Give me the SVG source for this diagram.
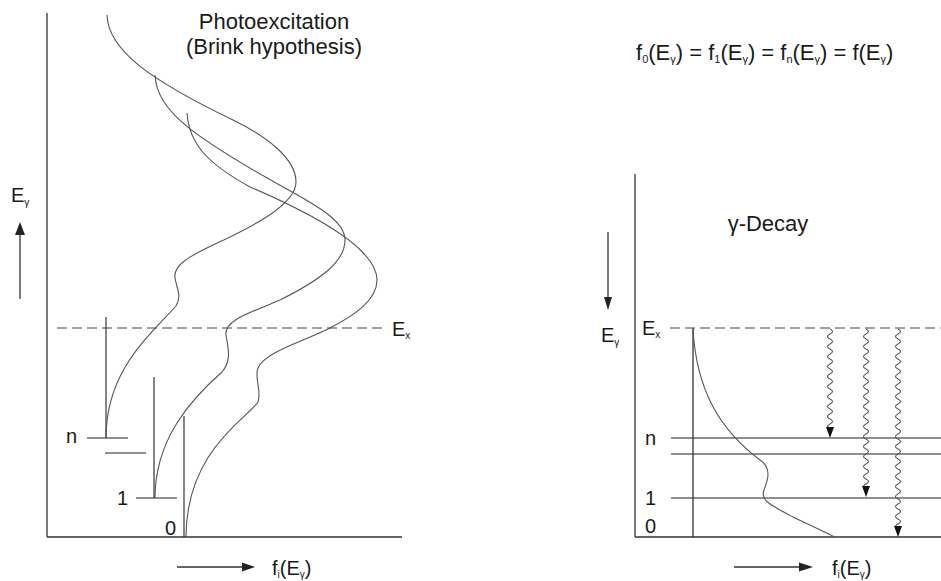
<svg xmlns="http://www.w3.org/2000/svg" width="941" height="581" viewBox="0 0 941 581">
<style>
text{font-family:"Liberation Sans",Arial,sans-serif;fill:#1a1a1a;font-size:20px}
.ax{stroke:#333;stroke-width:1.3;fill:none}
.lv{stroke:#222;stroke-width:1.1;fill:none}
.cv{stroke:#555;stroke-width:1.1;fill:none}
.da{stroke:#444;stroke-width:1.1;fill:none;stroke-dasharray:10,5}
.wv{stroke:#555;stroke-width:1.1;fill:none}
.ah{fill:#111}
.sub{font-size:10px}
.ttl{font-size:22px}
.fm{font-size:22px}
.fs{font-size:11px}
</style>
<g id="left-panel">
<line class="ax" x1="47" y1="13" x2="47" y2="537"/>
<line class="ax" x1="47" y1="537" x2="402" y2="537"/>
<line class="da" x1="57" y1="328" x2="385" y2="328"/>
</g>
<g id="left-axis-labels">
<line class="ax" x1="20" y1="299" x2="20" y2="232"/>
<path d="M15,235 L20,222 L25,235 Z" fill="#222"/>
<text x="11" y="202">E<tspan class="sub" dy="4">γ</tspan></text>
<line class="ax" x1="177" y1="567" x2="244" y2="567"/>
<path d="M242,562.5 L255,567 L242,571.5 Z" fill="#222"/>
<text x="272" y="575">f<tspan class="sub" dy="3">i</tspan><tspan dy="-3">(E</tspan><tspan class="sub" dy="3">γ</tspan><tspan dy="-3">)</tspan></text>
<text x="392" y="336">E<tspan class="sub" dy="3">x</tspan></text>
</g>
<g id="title-left">
<text x="274" y="29" text-anchor="middle" class="ttl">Photoexcitation</text>
<text x="274" y="54" text-anchor="middle" class="ttl">(Brink hypothesis)</text>
</g>
<g id="level-n">
<line class="lv" x1="106" y1="317" x2="106" y2="438"/>
<line class="lv" x1="87" y1="438" x2="128" y2="438"/>
<line class="lv" x1="105" y1="453" x2="146" y2="453"/>
<text x="66" y="443">n</text>
</g>
<g id="level-1">
<line class="lv" x1="154" y1="377" x2="154" y2="498"/>
<line class="lv" x1="136" y1="498" x2="177" y2="498"/>
<text x="117" y="505">1</text>
</g>
<g id="level-0">
<line class="lv" x1="184" y1="416" x2="184" y2="537"/>
<text x="165" y="535">0</text>
</g>
<g id="curves-left">
<path class="cv" d="M107,15 C108,50 150,80 233,120 C270,138 296,160 296,182 C296,205 250,228 213,245 C190,256 173,265 175,278 C177,290 182,295 176,306 C150,335 106,370 106,438"/>
<path class="cv" d="M155,75 C157,110 190,135 283,187 C320,207 345,222 345,240 C345,262 320,280 280,300 C250,313 224,320 226,335 C228,348 232,360 222,372 C190,400 155,440 155,498"/>
<path class="cv" d="M187,113 C189,145 210,165 250,187 C320,217 377,250 377,280 C377,300 355,315 330,328 C300,343 265,352 258,368 C254,378 262,392 258,402 C250,416 186,450 186,537"/>
</g>
<g id="formula">
<text x="636" y="60" class="fm">f<tspan class="fs" dy="3">0</tspan><tspan dy="-3">(E</tspan><tspan class="fs" dy="3">γ</tspan><tspan dy="-3">) = f</tspan><tspan class="fs" dy="3">1</tspan><tspan dy="-3">(E</tspan><tspan class="fs" dy="3">γ</tspan><tspan dy="-3">) = f</tspan><tspan class="fs" dy="3">n</tspan><tspan dy="-3">(E</tspan><tspan class="fs" dy="3">γ</tspan><tspan dy="-3">) = f(E</tspan><tspan class="fs" dy="3">γ</tspan><tspan dy="-3">)</tspan></text>
</g>
<g id="right-panel">
<line class="ax" x1="635" y1="174" x2="635" y2="537"/>
<line class="ax" x1="635" y1="537" x2="941" y2="537"/>
<line class="ax" x1="693" y1="328" x2="693" y2="537"/>
<line class="da" x1="670" y1="328" x2="941" y2="328"/>
<text x="768" y="231" text-anchor="middle" class="ttl">γ-Decay</text>
<line class="ax" x1="608" y1="232" x2="608" y2="298"/>
<path d="M604,297 L608,310 L612,297 Z" fill="#222"/>
<text x="601" y="342">E<tspan class="sub" dy="4">γ</tspan></text>
<text x="642" y="335">E<tspan class="sub" dy="3">x</tspan></text>
<line class="ax" x1="734" y1="567" x2="801" y2="567"/>
<path d="M799,562.5 L813,567 L799,571.5 Z" fill="#222"/>
<text x="832" y="575">f<tspan class="sub" dy="3">i</tspan><tspan dy="-3">(E</tspan><tspan class="sub" dy="3">γ</tspan><tspan dy="-3">)</tspan></text>
</g>
<g id="right-levels">
<line class="lv" x1="671" y1="438" x2="941" y2="438"/>
<line class="lv" x1="671" y1="454" x2="941" y2="454"/>
<line class="lv" x1="671" y1="498" x2="941" y2="498"/>
<text x="645" y="445">n</text>
<text x="645" y="505">1</text>
<text x="645" y="533">0</text>
</g>
<g id="right-curve">
<path class="cv" d="M693,328 C696,390 720,430 760,460 C772,468 768,480 764,490 C760,500 770,505 793,517 C810,525 825,532 835,537"/>
</g>
<g id="connectors">
<path class="wv" d="M830,329 q5,2.5 0,5 t0,5 t0,5 t0,5 t0,5 t0,5 t0,5 t0,5 t0,5 t0,5 t0,5 t0,5 t0,5 t0,5 t0,5 t0,5 t0,5 t0,5 t0,5 t0,4"/>
<path class="ah" d="M826,427 L834,427 L830,438 Z"/>
<path class="wv" d="M866,329 q5,2.5 0,5 t0,5 t0,5 t0,5 t0,5 t0,5 t0,5 t0,5 t0,5 t0,5 t0,5 t0,5 t0,5 t0,5 t0,5 t0,5 t0,5 t0,5 t0,5 t0,5 t0,5 t0,5 t0,5 t0,5 t0,5 t0,5 t0,5 t0,5 t0,5 t0,5 t0,5 t0,3"/>
<path class="ah" d="M862,486 L870,486 L866,497 Z"/>
<path class="wv" d="M898,329 q5,2.5 0,5 t0,5 t0,5 t0,5 t0,5 t0,5 t0,5 t0,5 t0,5 t0,5 t0,5 t0,5 t0,5 t0,5 t0,5 t0,5 t0,5 t0,5 t0,5 t0,5 t0,5 t0,5 t0,5 t0,5 t0,5 t0,5 t0,5 t0,5 t0,5 t0,5 t0,5 t0,5 t0,5 t0,5 t0,5 t0,5 t0,5 t0,5 t0,5 t0,3"/>
<path class="ah" d="M894,526 L902,526 L898,537 Z"/>
</g>
</svg>
